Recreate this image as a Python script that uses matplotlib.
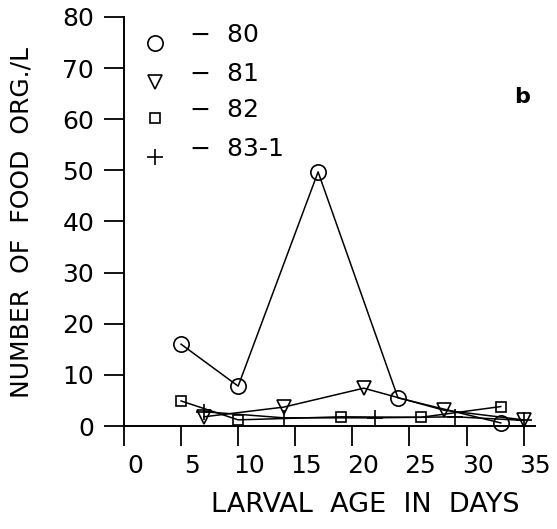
import matplotlib
matplotlib.use('Agg')
import matplotlib.pyplot as plt
import matplotlib.transforms as mtransforms

# Series (larval age in days, food organisms per litre)
days_80 = [5, 10, 17, 24, 33]
vals_80 = [16.0, 7.8, 49.7, 5.5, 0.6]

days_81 = [7, 14, 21, 28, 35]
vals_81 = [1.8, 3.7, 7.4, 3.1, 1.2]

days_82 = [5, 10, 19, 26, 33]
vals_82 = [4.9, 1.2, 1.8, 1.7, 3.8]

days_83 = [7, 14, 22, 29, 35]
vals_83 = [2.8, 1.6, 1.6, 1.8, 1.1]

labels = ["80", "81", "82", "83-1"]
markers = ["o", "v", "s", "+"]
msizes = [11, 10, 7, 11]

x_ticks = [0, 5, 10, 15, 20, 25, 30, 35]
y_ticks = [0, 10, 20, 30, 40, 50, 60, 70, 80]

fig = plt.figure(figsize=(5.57, 5.29), dpi=100)
ax = fig.add_axes([124 / 557, 1 - 426 / 529, (535 - 124) / 557, (426 - 17) / 529])

series = [(days_80, vals_80), (days_81, vals_81), (days_82, vals_82), (days_83, vals_83)]
for (d, v), m, ms in zip(series, markers, msizes):
    ax.plot(d, v, color='black', lw=1.1, marker=m, ms=ms, mfc='none', mec='black',
            mew=1.2, clip_on=False, zorder=3)

ax.set_xlim(0, 36)
ax.set_ylim(0, 80)
ax.set_xticks(x_ticks)
ax.set_yticks(y_ticks)
ax.spines['top'].set_visible(False)
ax.spines['right'].set_visible(False)
for s in ['left', 'bottom']:
    ax.spines[s].set_linewidth(1.4)
ax.tick_params(direction='out', length=14.5, width=1.3, labelsize=18, pad=7)
ax.tick_params(axis='x', pad=6)

# x tick labels sit a bit right of their ticks in the original
offset = mtransforms.ScaledTranslation(11 / 100, 0, fig.dpi_scale_trans)
for lab in ax.get_xticklabels():
    lab.set_transform(lab.get_transform() + offset)

fig.text(22 / 557, 1 - 222 / 529, "NUMBER  OF  FOOD  ORG./L", fontsize=18,
         rotation=90, ha='center', va='center')
fig.text(365 / 557, 1 - 505 / 529, "LARVAL  AGE  IN  DAYS", fontsize=19.5,
         ha='center', va='center')

# hand-drawn style key in upper left
key_y = [43, 82, 118, 157]
for m, ms, lab, ky in zip(markers, msizes, labels, key_y):
    yf = 1 - ky / 529
    ax.plot([155 / 557], [yf], transform=fig.transFigure, marker=m, ms=ms,
            mfc='none', mec='black', mew=1.2, ls='none', clip_on=False)
    fig.text(190 / 557, yf + 0.015, "\u2212  " + lab, fontsize=18, ha='left', va='center')

fig.text(522 / 557, 1 - 97 / 529, "b", fontsize=16, fontweight='bold',
         ha='center', va='center')

fig.savefig("out.png", dpi=100)
